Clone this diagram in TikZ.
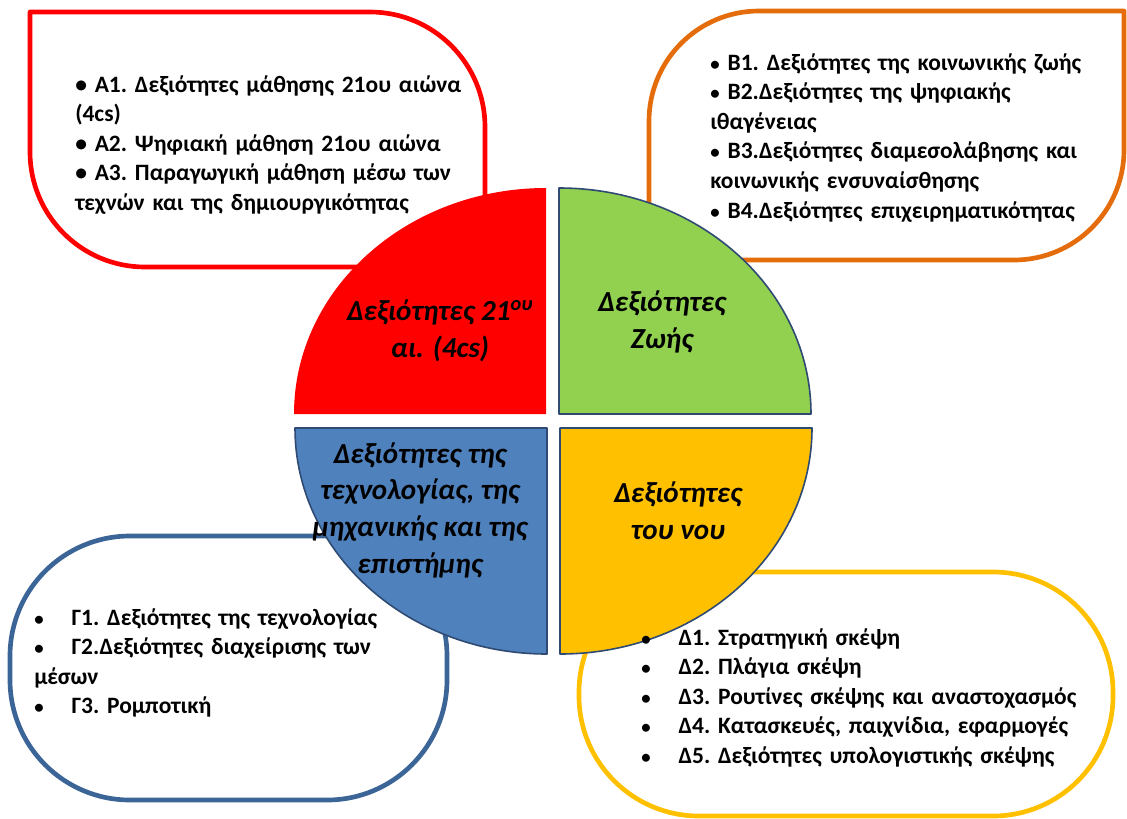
\documentclass[tikz,border=0pt]{standalone}
\usepackage{fontspec}
\setmainfont{Carlito}
\usepackage{xcolor}
\usetikzlibrary{calc}
\definecolor{bg}{HTML}{FFFFFF}
\definecolor{redc}{HTML}{FF0000}
\definecolor{orangec}{HTML}{E46C0A}
\definecolor{greenc}{HTML}{92D050}
\definecolor{bluec}{HTML}{4F81BD}
\definecolor{bluerim}{HTML}{3B6497}
\definecolor{goldc}{HTML}{FFC000}
\definecolor{navy}{HTML}{2F4B73}
\tikzset{
  rim/.style={line width=3.5pt, fill=white, line join=round},
  quad/.style={draw=navy, line width=1.2pt, line join=round},
  lab/.style={font=\fontsize{21.8}{27.5}\selectfont\bfseries\itshape, align=center, inner sep=0pt},
  list/.style={font=\fontsize{17.6}{22.2}\selectfont\bfseries\frenchspacing, align=left, inner sep=0pt, anchor=base west},
}
\newcommand{\bul}[1]{\makebox[#1][l]{\scalebox{0.8}{•}}}
\newcommand{\jline}[1]{\makebox[\hsize][s]{#1}}

\begin{document}
\begin{tikzpicture}[x=0.75pt, y=-0.75pt]
  \fill[bg] (0,0) rectangle (1127,818);
  \useasboundingbox (0,0) rectangle (1127,818);
  % frames
  \draw[rim, draw=redc] (30,152) -- (30,12) -- (370,12)
    arc[start angle=270, end angle=360, radius=115] -- (485,267) -- (145,267)
    arc[start angle=90, end angle=180, radius=115] -- cycle;
  \draw[rim, draw=orangec] (649,121) arc[start angle=180, end angle=270, radius=110]
    -- (1124,11) -- (1124,150) arc[start angle=0, end angle=90, radius=110]
    -- (649,260) -- cycle;
  \draw[rim, draw=bluerim, rounded corners=90pt] (10,536) rectangle (447,800);
  \draw[rim, draw=goldc, rounded corners=90pt] (579,572) rectangle (1113,816);
  % quarters
  \coordinate (ca) at (546,414);
  \coordinate (cb) at (559,414);
  \coordinate (cc) at (547,428);
  \coordinate (cd) at (560,428);
  \fill[redc] (ca) -- ++(-252,0) arc[start angle=180, end angle=270, x radius=252, y radius=226] -- cycle;
  \draw[quad, fill=greenc] (cb) -- ++(0,-226) arc[start angle=270, end angle=360, x radius=252, y radius=226] -- cycle;
  \draw[quad, fill=bluec] (cc) -- ++(-252,0) arc[start angle=180, end angle=90, x radius=252, y radius=226] -- cycle;
  \draw[quad, fill=goldc] (cd) -- ++(252,0) arc[start angle=0, end angle=90, x radius=252, y radius=226] -- cycle;
  \node[lab] (qa) at (440,331) {Δεξιότητες 21\textsuperscript{ου}\\αι. (4cs)};
  \node[lab] (qb) at (662,322) {Δεξιότητες\\Ζωής};
  \node[lab] (qc) at (420,510) {Δεξιότητες της\\τεχνολογίας, της\\μηχανικής και της\\επιστήμης};
  \node[lab] (qd) at (678,511) {Δεξιότητες\\του νου};
  % lists
  \node[list, text width=290pt] (la) at (75,92) {%
    \jline{• Α1. Δεξιότητες μάθησης 21ου αιώνα}\\
    (4cs)\\
    • Α2. Ψηφιακή μάθηση 21ου αιώνα\\
    \jline{• Α3. Παραγωγική μάθηση μέσω των}\\
    τεχνών και της δημιουργικότητας};
  \node[list, text width=290pt] (lb) at (710,70) {%
    \bul{13pt}Β1. Δεξιότητες της κοινωνικής ζωής\\
    \bul{13pt}Β2.Δεξιότητες της ψηφιακής\\
    ιθαγένειας\\
    \bul{13pt}Β3.Δεξιότητες διαμεσολάβησης και\\
    κοινωνικής ενσυναίσθησης\\
    \bul{13pt}Β4.Δεξιότητες επιχειρηματικότητας};
  \node[list, text width=290pt] (lc) at (34,625) {%
    \bul{28pt}Γ1. Δεξιότητες της τεχνολογίας\\
    \bul{28pt}Γ2.Δεξιότητες διαχείρισης των\\
    μέσων\\
    \bul{28pt}Γ3. Ρομποτική};
  \node[list, text width=330pt] (ld) at (641,645) {%
    \bul{28pt}Δ1. Στρατηγική σκέψη\\
    \bul{28pt}Δ2. Πλάγια σκέψη\\
    \bul{28pt}Δ3. Ρουτίνες σκέψης και αναστοχασμός\\
    \bul{28pt}Δ4. Κατασκευές, παιχνίδια, εφαρμογές\\
    \bul{28pt}Δ5. Δεξιότητες υπολογιστικής σκέψης};
\end{tikzpicture}
\end{document}
